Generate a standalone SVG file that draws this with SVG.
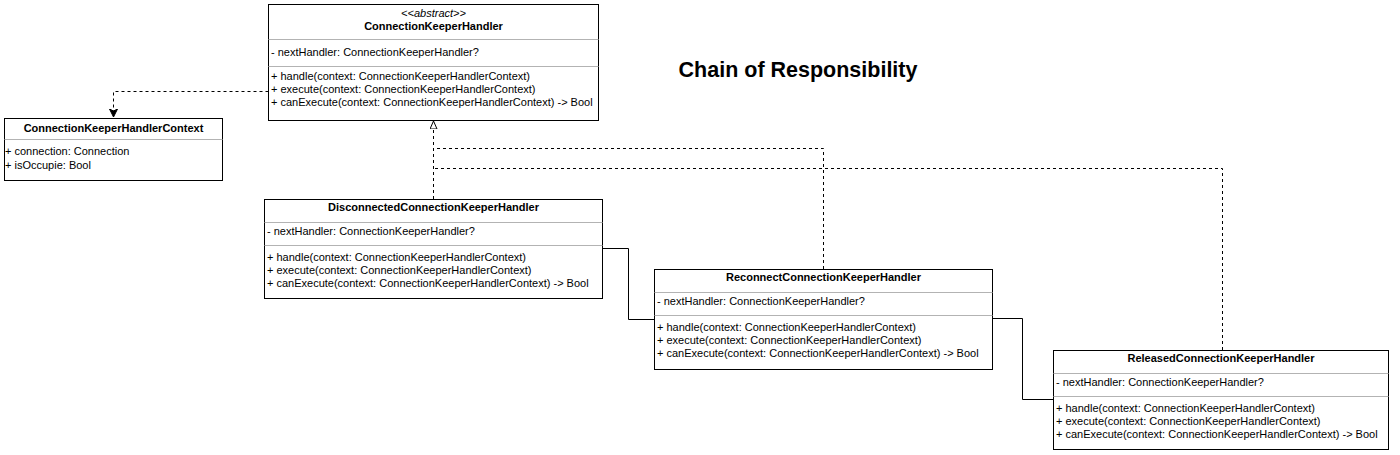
<svg xmlns="http://www.w3.org/2000/svg" width="1400" height="455" viewBox="0 0 1400 455">
<style>
.box{fill:#fff;stroke:#000;stroke-width:1}
.div{stroke:#b3b3b3;stroke-width:1}
text{font-family:"Liberation Sans",Arial,sans-serif;font-size:11px;fill:#000}
.t{font-weight:bold;text-anchor:middle}
.st{font-style:italic;text-anchor:middle}
.title{font-size:21.5px;font-weight:bold;text-anchor:middle}
.dash{fill:none;stroke:#000;stroke-width:1;stroke-dasharray:3,3}
.solid{fill:none;stroke:#000;stroke-width:1}
</style>
<defs>
<marker id="tri" markerWidth="10" markerHeight="10" refX="8" refY="4" orient="auto" markerUnits="userSpaceOnUse">
<path d="M0,0.5 L8,4 L0,7.5 Z" fill="#fff" stroke="#000" stroke-width="1"/>
</marker>
<marker id="fill" markerWidth="10" markerHeight="10" refX="8" refY="4" orient="auto" markerUnits="userSpaceOnUse">
<path d="M0,0 L8,4 L0,8 L2,4 Z" fill="#000" stroke="#000" stroke-width="1"/>
</marker>
</defs>
<rect width="1400" height="455" fill="#fff"/>
<text class="title" x="798" y="77">Chain of Responsibility</text>

<g id="connectors">
<path class="dash" d="M268.5,91.5 H113.5 V117" marker-end="url(#fill)"/>
<path class="dash" d="M433.5,199 V121" marker-end="url(#tri)"/>
<path class="dash" d="M823.5,269 V148.5 H433.5"/>
<path class="dash" d="M1222.5,350 V168.5 H433.5"/>
<path class="solid" d="M603,248.5 H628.5 V319.5 H654"/>
<path class="solid" d="M992,318.5 H1022.5 V399.5 H1053"/>
</g>

<g id="ConnectionKeeperHandler">
<rect class="box" x="268.5" y="4.5" width="330" height="116"/>
<line class="div" x1="268.5" y1="39.5" x2="598.5" y2="39.5"/>
<line class="div" x1="268.5" y1="66.5" x2="598.5" y2="66.5"/>
<text class="st" x="433.5" y="17">&lt;&lt;abstract&gt;&gt;</text>
<text class="t" x="433.5" y="30">ConnectionKeeperHandler</text>
<text x="271" y="56">- nextHandler: ConnectionKeeperHandler?</text>
<text x="271" y="80">+ handle(context: ConnectionKeeperHandlerContext)</text>
<text x="271" y="93">+ execute(context: ConnectionKeeperHandlerContext)</text>
<text x="271" y="106">+ canExecute(context: ConnectionKeeperHandlerContext) -&gt; Bool</text>
</g>

<g id="ConnectionKeeperHandlerContext">
<rect class="box" x="4.5" y="118.5" width="218" height="62"/>
<line class="div" x1="4.5" y1="139.5" x2="222.5" y2="139.5"/>
<text class="t" x="113.5" y="132">ConnectionKeeperHandlerContext</text>
<text x="5" y="155">+ connection: Connection</text>
<text x="5" y="169">+ isOccupie: Bool</text>
</g>

<g id="DisconnectedConnectionKeeperHandler">
<rect class="box" x="264.5" y="199.5" width="338" height="99"/>
<line class="div" x1="264.5" y1="222.5" x2="602.5" y2="222.5"/>
<line class="div" x1="264.5" y1="245.5" x2="602.5" y2="245.5"/>
<text class="t" x="433.5" y="211">DisconnectedConnectionKeeperHandler</text>
<text x="267" y="235">- nextHandler: ConnectionKeeperHandler?</text>
<text x="267" y="261">+ handle(context: ConnectionKeeperHandlerContext)</text>
<text x="267" y="274">+ execute(context: ConnectionKeeperHandlerContext)</text>
<text x="267" y="287">+ canExecute(context: ConnectionKeeperHandlerContext) -&gt; Bool</text>
</g>

<g id="ReconnectConnectionKeeperHandler">
<rect class="box" x="654.5" y="269.5" width="338" height="100"/>
<line class="div" x1="654.5" y1="292.5" x2="992.5" y2="292.5"/>
<line class="div" x1="654.5" y1="315.5" x2="992.5" y2="315.5"/>
<text class="t" x="823.5" y="281">ReconnectConnectionKeeperHandler</text>
<text x="657" y="305">- nextHandler: ConnectionKeeperHandler?</text>
<text x="657" y="331">+ handle(context: ConnectionKeeperHandlerContext)</text>
<text x="657" y="344">+ execute(context: ConnectionKeeperHandlerContext)</text>
<text x="657" y="357">+ canExecute(context: ConnectionKeeperHandlerContext) -&gt; Bool</text>
</g>

<g id="ReleasedConnectionKeeperHandler">
<rect class="box" x="1053.5" y="350.5" width="335" height="99"/>
<line class="div" x1="1053.5" y1="373.5" x2="1388.5" y2="373.5"/>
<line class="div" x1="1053.5" y1="396.5" x2="1388.5" y2="396.5"/>
<text class="t" x="1221" y="362">ReleasedConnectionKeeperHandler</text>
<text x="1056" y="386">- nextHandler: ConnectionKeeperHandler?</text>
<text x="1056" y="412">+ handle(context: ConnectionKeeperHandlerContext)</text>
<text x="1056" y="425">+ execute(context: ConnectionKeeperHandlerContext)</text>
<text x="1056" y="438">+ canExecute(context: ConnectionKeeperHandlerContext) -&gt; Bool</text>
</g>
</svg>
